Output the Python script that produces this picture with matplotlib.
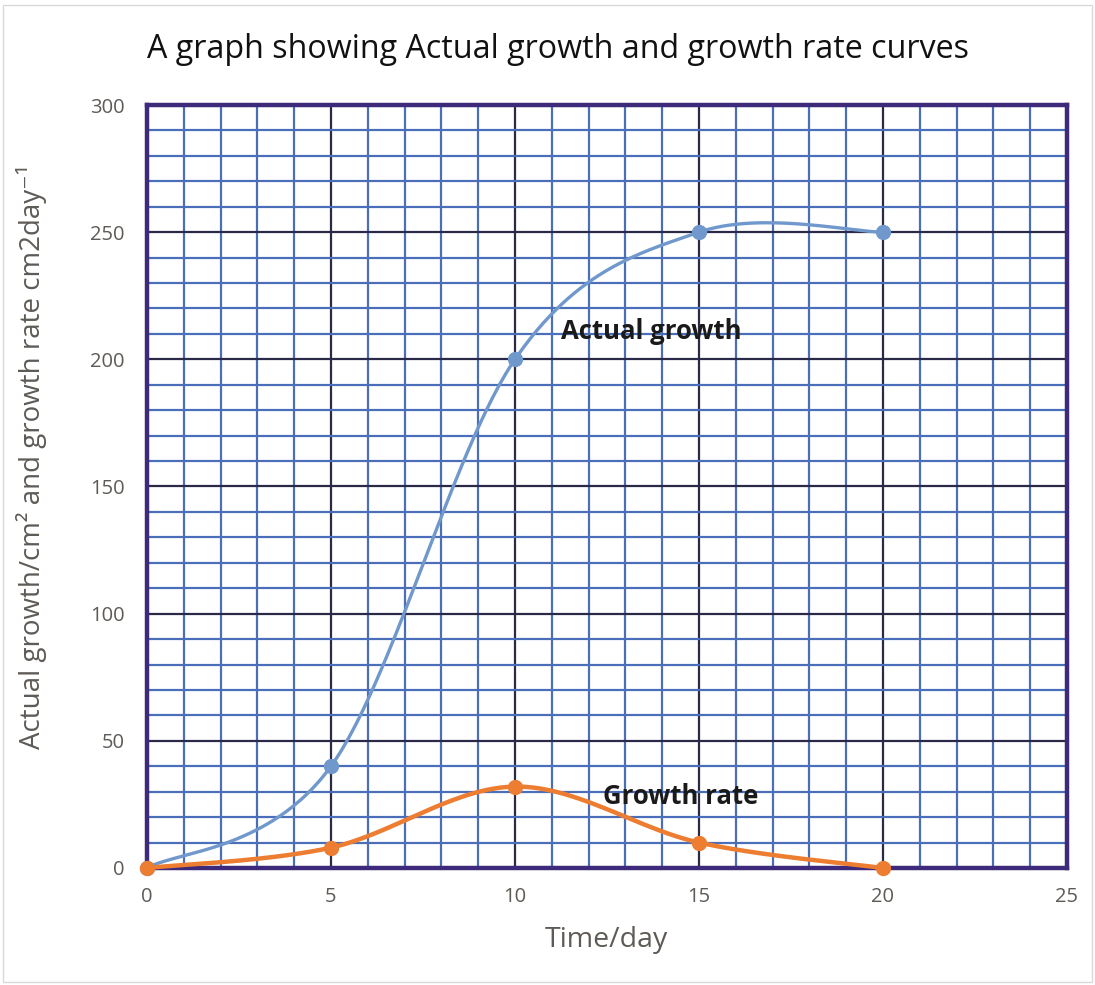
import numpy as np
import matplotlib
matplotlib.use("Agg")
import matplotlib.pyplot as plt
from matplotlib.ticker import MultipleLocator

days = [0, 5, 10, 15, 20]
actual_growth = [0, 40, 200, 250, 250]
growth_rate = [0, 8, 32, 10, 0]

title = "A graph showing Actual growth and growth rate curves"
xlabel = "Time/day"
ylabel = "Actual growth/cm² and growth rate cm2day⁻¹"


def excel_smooth(xs, ys, n=60):
    xs = np.asarray(xs, float)
    ys = np.asarray(ys, float)
    P = np.column_stack([xs, ys])
    ext = np.vstack([P[0], P, P[-1]])
    out = []
    for i in range(len(P) - 1):
        p0, p1, p2, p3 = ext[i], ext[i + 1], ext[i + 2], ext[i + 3]
        c1 = p1 + (p2 - p0) / 6.0
        c2 = p2 - (p3 - p1) / 6.0
        t = np.linspace(0, 1, n)[:, None]
        seg = ((1 - t) ** 3) * p1 + 3 * ((1 - t) ** 2) * t * c1 + 3 * (1 - t) * t ** 2 * c2 + t ** 3 * p2
        out.append(seg if i == 0 else seg[1:])
    s = np.vstack(out)
    return s[:, 0], s[:, 1]


plt.rcParams['font.family'] = ['Open Sans', 'DejaVu Sans']

fig = plt.figure(figsize=(10.95, 9.85), dpi=100)
ax = fig.add_axes([0.1342, 0.1188, 0.8402, 0.7746])

ax.set_xlim(0, 25)
ax.set_ylim(0, 300)
ax.xaxis.set_major_locator(MultipleLocator(5))
ax.xaxis.set_minor_locator(MultipleLocator(1))
ax.yaxis.set_major_locator(MultipleLocator(50))
ax.yaxis.set_minor_locator(MultipleLocator(10))
ax.grid(which='minor', color='#4a6fb8', linewidth=1.6)
ax.grid(which='major', color='#2a2a48', linewidth=1.6)
ax.set_axisbelow(True)
ax.tick_params(which='both', length=0)
ax.tick_params(axis='both', labelsize=14.5, colors='#5e5a56')
ax.tick_params(axis='y', pad=16)
ax.tick_params(axis='x', pad=14)
for s in ax.spines.values():
    s.set_color('#3d2a7a')
    s.set_linewidth(3.2)

blue = '#7098cc'
orange = '#ed7d31'
sx, sy = excel_smooth(days, actual_growth)
ax.plot(sx, sy, color=blue, lw=2.4, zorder=3, clip_on=False)
ax.plot(days, actual_growth, 'o', color=blue, ms=10, zorder=4, clip_on=False)
gx, gy = excel_smooth(days, growth_rate)
ax.plot(gx, gy, color=orange, lw=3.2, zorder=3, clip_on=False)
ax.plot(days, growth_rate, 'o', color=orange, ms=10, zorder=4, clip_on=False)

ax.text(13.7, 211, "Actual growth", fontsize=18.5, fontweight='bold', color='#1a1a1a',
        ha='center', va='center', zorder=5)
ax.text(14.5, 28, "Growth rate", fontsize=18.5, fontweight='bold', color='#1a1a1a',
        ha='center', va='center', zorder=5)

fig.text(558 / 1095, 1 - 50 / 985, title, fontsize=23.2, color='#111111', ha='center', va='center')
fig.text(606 / 1095, 1 - 940 / 985, xlabel, fontsize=20.5, color='#5e5a56', ha='center', va='center')
fig.text(32 / 1095, 1 - 457 / 985, ylabel, fontsize=20, color='#5e5a56', ha='center', va='center',
         rotation=90)

fig.patches.append(plt.Rectangle((0.003, 0.003), 0.994, 0.992, transform=fig.transFigure,
                                 fill=False, edgecolor='#d9d9d9', lw=1))
fig.savefig('out.png', dpi=100, facecolor='white')
